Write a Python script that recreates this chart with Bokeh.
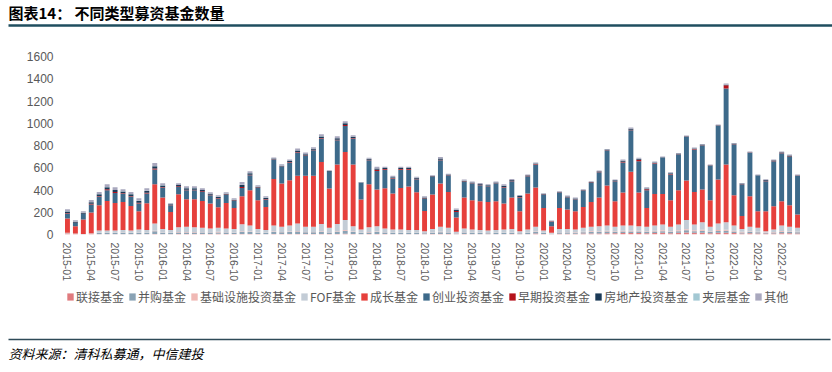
from bokeh.plotting import figure
from bokeh.models import ColumnDataSource, Legend, LegendItem, FixedTicker, Range1d
from bokeh.layouts import column
from bokeh.embed import file_html
from bokeh.resources import INLINE
from bokeh.core.properties import value

# ---------------- data ----------------
months = [f"{y}-{m:02d}" for y in range(2015, 2023) for m in range(1, 13)][:93]

series_names = ["联接基金", "并购基金", "基础设施投资基金", "FOF基金", "成长基金",
                "创业投资基金", "早期投资基金", "房地产投资基金", "夹层基金", "其他"]

lianjie = [8,5,3,7,3,3,3,3,3,3, 3,5,3,3,4,4,4,4,4,6, 4,4,5,5,4,3,5,4,5,5,
           4,4,5,4,5,6,5,3,4,5, 4,3,3,3,3,3,4,5,4,3, 4,3,3,3,3,3,4,3,3,8,
           5,3,6,6,6,8,10,10,12,12, 14,14,14,12,14,15,12,15,18,15,
           16,12,15,16,14,10,12,10,8,9, 12,12,10]
binggou = [3,1,1,2,10,10,10,12,10,12, 11,25,12,10,15,15,15,14,13,13,
           13,12,20,18,12,10,18,16,18,22, 16,16,20,14,20,28,17,11,15,17,
           13,11,11,10,10,8,12,15,14,6, 13,11,10,9,10,11,12,8,11,14,
           8,4,11,11,10,12,13,14,14,12, 13,13,12,12,13,15,12,15,20,15,
           18,12,16,18,13,9,12,10,6,8, 13,12,10]
jichu = [4,2,1,3,2,2,2,2,2,3, 2,3,2,2,3,3,3,3,3,5, 3,3,4,4,3,2,4,3,4,5,
         3,3,5,3,5,6,4,2,3,4, 3,2,2,2,2,2,3,4,3,2, 3,2,2,2,2,2,3,2,2,6,
         3,2,4,4,4,5,6,6,7,6, 7,7,7,6,7,8,6,8,10,8, 9,6,9,9,7,5,6,5,4,5, 7,6,5]
fof = [0,0,0,0,20,20,20,23,20,27, 24,67,33,25,43,48,43,39,35,36,
       35,31,63,53,31,25,53,47,53,68, 47,47,65,39,65,90,49,29,43,49,
       35,29,29,25,25,17,31,46,39,14, 35,29,25,21,25,29,31,17,29,42,
       19,6,29,29,25,35,41,45,47,40, 46,46,42,40,46,52,40,52,82,52,
       67,40,60,67,46,26,40,35,12,23, 48,40,35]
chengzhang = [129,67,130,186,228,267,249,253,222,164, 241,352,282,163,297,247,252,242,223,185,
              229,189,252,318,258,208,420,388,408,427, 457,457,557,353,534,612,554,269,387,329,
              361,323,374,391,340,182,309,388,323,128, 277,263,259,258,259,233,282,179,323,352,
              204,60,189,175,164,188,223,257,360,229, 297,483,302,169,285,275,238,308,355,293,
              294,238,394,519,273,117,274,149,179,209, 219,193,120]
chuangye = [45,28,49,72,78,96,90,75,84,69, 87,132,90,60,66,81,81,81,75,78,
            72,63,75,135,111,66,174,150,159,210, 179,230,210,150,218,234,233,148,215,167,
            167,135,164,152,117,108,159,209,150,50, 141,150,144,141,159,144,147,123,156,207,
            123,38,138,107,105,147,171,228,317,180, 270,374,282,159,273,324,231,321,392,382,
            396,308,481,683,458,285,391,318,270,405, 432,434,348]
zaoqi = [5,3,3,6,6,8,7,5,6,7, 7,9,5,3,5,5,5,5,4,4, 3,3,8,5,3,4,3,3,4,5,
         4,4,6,2,5,8,5,2,4,12, 5,4,5,5,4,4,3,6,2,8, 4,3,4,3,3,6,4,5,3,4,
         1,3,2,3,3,2,3,3,2,3, 7,5,12,8,4,2,5,3,2,3, 3,3,3,30,2,2,2,2,4,3, 3,5,2]
fangdichan = [13,9,9,14,15,19,18,14,15,17, 17,20,14,6,11,13,13,11,9,11,
              8,8,19,13,8,11,6,8,9,13, 11,9,14,5,13,15,11,4,8,10,
              9,8,9,9,7,8,5,10,4,10, 7,6,7,6,6,10,7,8,5,6,
              4,4,4,6,6,4,5,5,4,5, 9,8,8,8,6,4,7,5,4,5, 5,4,4,5,4,4,3,4,6,5, 5,7,3]
jiaceng = [1,1,1,1,1,2,2,1,1,2, 2,2,1,0,1,1,1,1,1,1, 1,1,2,1,1,1,1,1,1,1,
           1,1,1,0,1,1,1,0,1,1, 1,1,1,1,1,1,0,1,0,1, 1,1,1,1,1,1,1,1,0,1,
           0,0,0,1,1,0,0,0,0,0, 1,1,1,1,1,0,1,0,0,1, 0,0,0,1,0,0,0,0,1,0, 0,1,0]
qita = [18,12,12,20,20,25,24,19,20,22, 22,28,19,8,16,17,17,16,13,14,
        12,12,25,17,12,14,8,12,13,17, 15,13,18,8,17,18,14,5,9,14,
        10,11,10,10,9,11,7,13,6,11, 9,8,9,8,8,13,9,10,7,7,
        1,6,6,8,8,6,7,7,6,7, 10,10,9,10,7,6,8,6,6,7, 6,6,6,9,6,6,6,6,7,7, 7,9,6]

y_ticks = [0, 200, 400, 600, 800, 1000, 1200, 1400, 1600]

colors = ["#E07B7E", "#8AA3B5", "#F0B9B5", "#C3CCD6", "#E6403C",
          "#3D6A8A", "#B5121B", "#1B3A57", "#A3C8D3", "#A9A8BE"]

keys = ["lianjie", "binggou", "jichu", "fof", "chengzhang",
        "chuangye", "zaoqi", "fangdichan", "jiaceng", "qita"]
data = dict(x=list(range(len(months))), lianjie=lianjie, binggou=binggou, jichu=jichu,
            fof=fof, chengzhang=chengzhang, chuangye=chuangye, zaoqi=zaoqi,
            fangdichan=fangdichan, jiaceng=jiaceng, qita=qita)
source = ColumnDataSource(data)

W = 832
FONT = "Noto Sans CJK SC"

# ---------------- title strip ----------------
H_TOP = 30
p_top = figure(width=W, height=H_TOP, x_range=Range1d(0, W), y_range=Range1d(0, H_TOP),
               output_backend="svg", toolbar_location=None, min_border=0,
               x_axis_location=None, y_axis_location=None, frame_align=False)
p_top.outline_line_color = None
p_top.grid.grid_line_color = None
p_top.text(x=[8], y=[H_TOP - 12], text=["图表14：  不同类型募资基金数量"], text_font=value(FONT),
           text_font_style="bold", text_font_size="15px", text_baseline="middle",
           text_color="#000000")
p_top.segment(x0=[8], y0=[H_TOP - 25], x1=[W], y1=[H_TOP - 25], line_width=2.5,
              line_color="#1F4E5F")

# ---------------- main chart ----------------
p = figure(width=W, height=254, x_range=Range1d(-0.5, len(months) - 0.5),
           y_range=Range1d(0, 1600), output_backend="svg", toolbar_location=None,
           min_border_left=63, min_border_right=31, min_border_top=26, min_border_bottom=50,
           frame_align=False)
p.outline_line_color = None
p.xgrid.grid_line_color = None
p.ygrid.grid_line_color = None

renderers = p.vbar_stack(keys, x="x", width=0.62, color=colors, line_width=0, source=source)

p.yaxis.ticker = FixedTicker(ticks=y_ticks)
p.yaxis.axis_line_color = None
p.yaxis.major_tick_line_color = None
p.yaxis.minor_tick_line_color = None
p.yaxis.major_tick_out = 0
p.yaxis.major_tick_in = 0
p.yaxis.minor_tick_out = 0
p.yaxis.major_label_text_color = "#595959"
p.yaxis.major_label_text_font = "Liberation Sans"
p.yaxis.major_label_text_font_size = "12px"
p.yaxis.major_label_standoff = 10

tick_idx = list(range(0, len(months), 3))
p.xaxis.ticker = FixedTicker(ticks=tick_idx)
p.xaxis.major_label_overrides = {i: months[i] for i in tick_idx}
p.xaxis.major_label_orientation = "vertical"
p.xaxis.axis_line_color = None
p.xaxis.major_tick_line_color = None
p.xaxis.minor_tick_line_color = None
p.xaxis.major_tick_out = 0
p.xaxis.major_tick_in = 0
p.xaxis.minor_tick_out = 0
p.xaxis.major_label_text_color = "#595959"
p.xaxis.major_label_text_font = "Liberation Sans"
p.xaxis.major_label_text_font_size = "10.5px"
p.xaxis.major_label_standoff = 8

# ---------------- footer: legend, rule, source ----------------
H_BOT = 86
p_bot = figure(width=W, height=H_BOT, x_range=Range1d(0, W), y_range=Range1d(0, H_BOT),
               output_backend="svg", toolbar_location=None, min_border=0,
               x_axis_location=None, y_axis_location=None, frame_align=False)
p_bot.outline_line_color = None
p_bot.grid.grid_line_color = None

# legend swatches: zero-height bars carrying the series colours
swatches = [p_bot.vbar(x=[0], top=[0], bottom=[0], width=0, fill_color=c, line_color=None)
            for c in colors]
legend = Legend(items=[LegendItem(label=n, renderers=[r], index=0)
                       for n, r in zip(series_names, swatches)],
                orientation="horizontal", location=(66, H_BOT - 21),
                glyph_width=8, glyph_height=9, label_standoff=2, spacing=4, padding=0, margin=0,
                label_text_font=FONT, label_text_font_size="12px", label_text_color="#595959",
                border_line_color=None, background_fill_alpha=0)
p_bot.add_layout(legend, "center")

p_bot.segment(x0=[8], y0=[H_BOT - 55], x1=[830], y1=[H_BOT - 55], line_width=1.5,
              line_color="#2E4A58")
p_bot.text(x=[8], y=[H_BOT - 69], text=["资料来源：清科私募通，中信建投"], text_font=value(FONT),
           text_font_style="italic", text_font_size="13px", text_baseline="middle",
           text_color="#000000")

layout = column(p_top, p, p_bot)
open("out.html", "w").write(file_html(layout, INLINE))
